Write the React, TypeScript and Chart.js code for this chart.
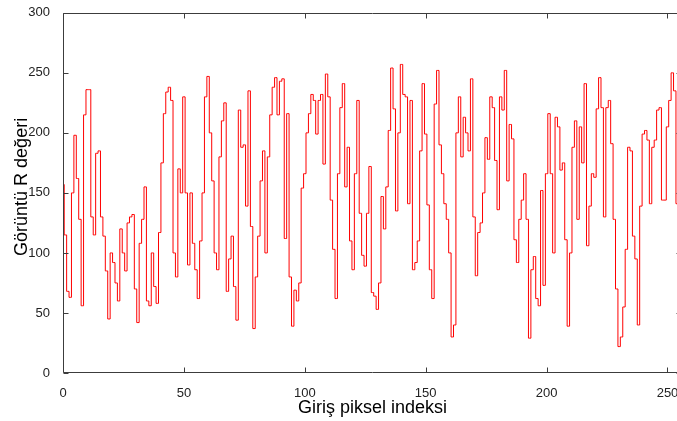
import React, { useEffect, useRef } from 'react';
import { Chart, registerables } from 'chart.js';

Chart.register(...registerables);

const xTickValues = [0, 50, 100, 150, 200, 250];
const yTickValues = [0, 50, 100, 150, 200, 250, 300];
const xTitle = 'Giriş piksel indeksi';
const yTitle = 'Görüntü R değeri';

// R channel value for each input pixel index (0..255)
const rValues = [
  157, 115, 68, 63, 150, 198, 162, 128, 56, 215,
  236, 236, 130, 115, 183, 185, 130, 114, 85, 45,
  100, 92, 75, 60, 120, 100, 85, 125, 130, 132,
  70, 42, 108, 128, 155, 60, 56, 100, 72, 58,
  117, 175, 216, 234, 238, 227, 100, 80, 170, 150,
  230, 150, 90, 150, 108, 86, 62, 110, 150, 230,
  247, 200, 160, 100, 86, 180, 210, 225, 68, 95,
  114, 72, 44, 219, 188, 190, 139, 235, 122, 37,
  80, 114, 160, 185, 100, 180, 215, 238, 246, 215,
  243, 245, 112, 216, 80, 39, 69, 60, 75, 154,
  166, 200, 216, 232, 227, 199, 227, 232, 174, 249,
  230, 144, 103, 62, 166, 221, 241, 155, 188, 110,
  86, 166, 227, 133, 98, 89, 133, 172, 67, 64,
  53, 75, 147, 120, 155, 202, 254, 220, 135, 200,
  257, 232, 230, 141, 227, 86, 92, 110, 185, 241,
  199, 140, 86, 62, 224, 252, 190, 166, 141, 128,
  100, 30, 40, 200, 230, 180, 213, 200, 185, 245,
  130, 81, 117, 125, 150, 196, 178, 230, 221, 177,
  136, 230, 219, 252, 160, 207, 195, 111, 92, 128,
  144, 166, 128, 29, 86, 97, 62, 56, 152, 73,
  166, 216, 166, 100, 213, 205, 169, 175, 111, 39,
  100, 188, 210, 128, 205, 175, 241, 106, 139, 166,
  163, 220, 246, 221, 130, 221, 227, 191, 128, 70,
  22, 30, 55, 103, 188, 185, 114, 95, 40, 139,
  199, 202, 194, 141, 188, 194, 219, 221, 144, 144,
  205, 227, 250, 235, 141, 250,
];

const framePlugin = {
  id: 'matlabFrame',
  afterDraw(chart: any) {
    const { ctx, chartArea } = chart;
    const xs = chart.scales.x;
    const ys = chart.scales.y;
    const l = Math.round(chartArea.left) + 0.5;
    const r = Math.round(chartArea.right) - 0.5;
    const t = Math.round(chartArea.top) + 0.5;
    const b = Math.round(chartArea.bottom) - 0.5;
    ctx.save();
    ctx.strokeStyle = '#3c3c3c';
    ctx.lineWidth = 1;
    ctx.beginPath();
    ctx.rect(l, t, r - l, b - t);
    ctx.stroke();
    ctx.beginPath();
    const len = 5;
    xTickValues.forEach((v) => {
      const px = Math.round(xs.getPixelForValue(v)) + 0.5;
      ctx.moveTo(px, b);
      ctx.lineTo(px, b - len);
      ctx.moveTo(px, t);
      ctx.lineTo(px, t + len);
    });
    yTickValues.forEach((v) => {
      const py = Math.round(ys.getPixelForValue(v)) + 0.5;
      ctx.moveTo(l, py);
      ctx.lineTo(l + len, py);
      ctx.moveTo(r, py);
      ctx.lineTo(r - len, py);
    });
    ctx.stroke();

    // y-axis title, rotated, placed as in the reference
    ctx.fillStyle = '#000';
    ctx.font = '18px "Liberation Sans"';
    ctx.textAlign = 'center';
    ctx.textBaseline = 'middle';
    ctx.translate(22, (chartArea.top + chartArea.bottom) / 2 - 6);
    ctx.rotate(-Math.PI / 2);
    ctx.fillText(yTitle, 0, 0);
    ctx.restore();
  },
};

export default function App() {
  const canvasRef = useRef<HTMLCanvasElement | null>(null);

  useEffect(() => {
    if (!canvasRef.current) return;
    const chart = new Chart(canvasRef.current, {
      type: 'line',
      data: {
        datasets: [
          {
            data: rValues.map((v, i) => ({ x: i, y: v })),
            borderColor: '#ff0000',
            borderWidth: 1,
            pointRadius: 0,
            stepped: 'middle',
            fill: false,
          },
        ],
      },
      options: {
        animation: false,
        responsive: false,
        maintainAspectRatio: false,
        layout: { padding: { top: 10, right: 8, bottom: 0, left: 0 } },
        plugins: { legend: { display: false }, tooltip: { enabled: false } },
        scales: {
          x: {
            type: 'linear',
            min: 0,
            max: 256,
            grid: { display: false },
            border: { display: false },
            afterFit: (s: any) => {
              s.height = 48;
            },
            ticks: {
              stepSize: 50,
              includeBounds: false,
              autoSkip: false,
              maxRotation: 0,
              padding: 5,
              color: '#222',
              font: { family: 'Liberation Sans', size: 13 },
            },
            title: {
              display: true,
              text: xTitle,
              color: '#000',
              font: { family: 'Liberation Sans', size: 18 },
              padding: { top: 0, bottom: 2 },
            },
          },
          y: {
            type: 'linear',
            min: 0,
            max: 300,
            grid: { display: false },
            border: { display: false },
            afterFit: (s: any) => {
              s.width = 63;
            },
            ticks: {
              stepSize: 50,
              autoSkip: false,
              padding: 5,
              color: '#222',
              font: { family: 'Liberation Sans', size: 13 },
            },
            title: { display: false },
          },
        },
      },
      plugins: [framePlugin],
    });
    return () => chart.destroy();
  }, []);

  return (
    <div
      style={{
        position: 'fixed',
        left: 0,
        top: 0,
        width: 677,
        height: 421,
        overflow: 'hidden',
        background: '#fff',
      }}
    >
      <canvas ref={canvasRef} width={690} height={421} style={{ display: 'block' }} />
    </div>
  );
}
